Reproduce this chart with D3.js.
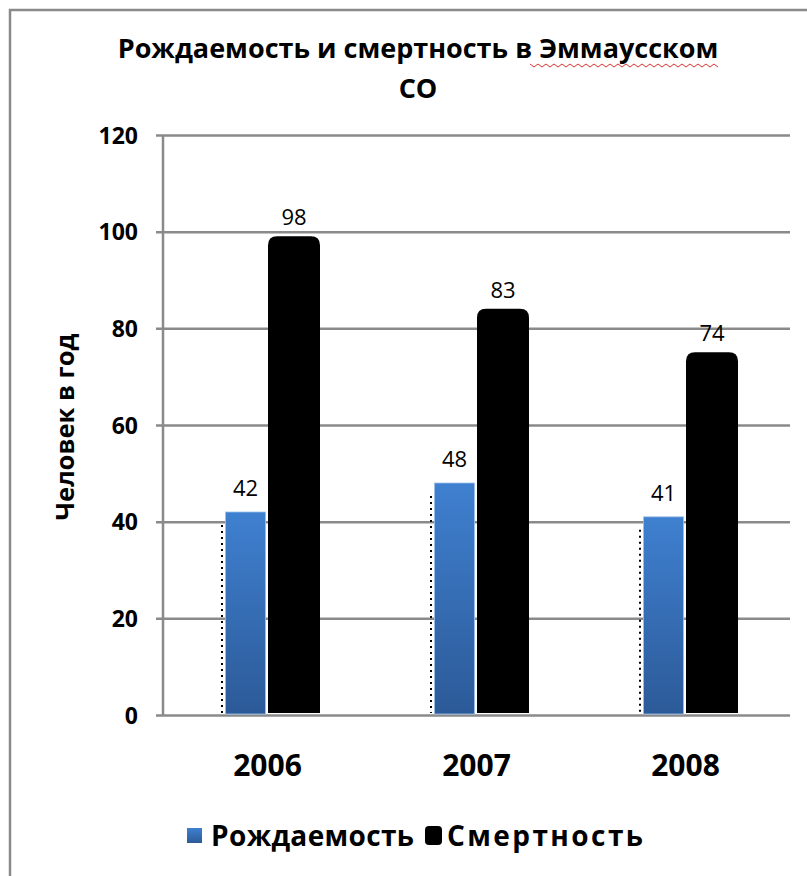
<!DOCTYPE html>
<html>
<head>
<meta charset="utf-8">
<script src="https://cdn.jsdelivr.net/npm/d3@7"></script>
<style>
  html, body { margin: 0; padding: 0; background: #fff; }
  svg { display: block; }
  text { font-family: "Open Sans", "Noto Sans", sans-serif; }
</style>
</head>
<body>
<svg id="chart" width="807" height="876"></svg>
<script>
const categories = ["2006", "2007", "2008"];
const births = [42, 48, 41];
const deaths = [98, 83, 74];
const yTicks = [0, 20, 40, 60, 80, 100, 120];
const seriesNames = ["Рождаемость", "Смертность"];
const titleLines = ["Рождаемость и смертность в Эммаусском", "СО"];
const yTitle = "Человек в год";

const svg = d3.select("#chart");

// outer border (extends beyond right/bottom of frame)
svg.append("rect").attr("x", 10).attr("y", 10).attr("width", 820).attr("height", 900)
  .attr("fill", "#fff").attr("stroke", "#8a8a8a").attr("stroke-width", 2.5);

const defs = svg.append("defs");
const grad = defs.append("linearGradient").attr("id", "blueGrad")
  .attr("x1", 0).attr("y1", 0).attr("x2", 0).attr("y2", 1);
grad.append("stop").attr("offset", "0%").attr("stop-color", "#3f80d0");
grad.append("stop").attr("offset", "100%").attr("stop-color", "#2c5a98");

const x0 = 163, x1 = 790, yTop = 135, yBot = 715;
const y = d3.scaleLinear().domain([0, 120]).range([yBot, yTop]);
const x = d3.scaleBand().domain(categories).range([x0, x1]).padding(0);

// gridlines + y axis
const yAxis = d3.axisLeft(y).tickValues(yTicks).tickSize(-(x1 - x0)).tickSizeOuter(0).tickPadding(25);
const gy = svg.append("g").attr("transform", `translate(${x0},0)`).call(yAxis);
gy.select(".domain").remove();
gy.selectAll(".tick line").attr("stroke", "#8a8a8a").attr("stroke-width", 2.5).attr("x1", -7);
gy.selectAll(".tick text").attr("font-size", 23).attr("font-weight", "bold").attr("fill", "#000")
  .attr("dy", "0.36em");
svg.append("line").attr("x1", x0).attr("x2", x0).attr("y1", yTop).attr("y2", yBot)
  .attr("stroke", "#8a8a8a").attr("stroke-width", 2.5);

// x axis labels
const xAxis = d3.axisBottom(x).tickSize(0).tickPadding(40);
const gx = svg.append("g").attr("transform", `translate(0,${yBot})`).call(xAxis);
gx.select(".domain").remove();
gx.selectAll(".tick text").attr("font-size", 30).attr("font-weight", "bold").attr("fill", "#000");

const groups = svg.append("g").selectAll("g").data(categories).join("g");

// dotted shadow lines
groups.append("line")
  .attr("x1", (d) => x(d) + x.bandwidth() / 2 - 45.5)
  .attr("x2", (d) => x(d) + x.bandwidth() / 2 - 45.5)
  .attr("y1", (d, i) => y(births[i]) + 13)
  .attr("y2", yBot - 2)
  .attr("stroke", "#000").attr("stroke-width", 2).attr("stroke-dasharray", "2,4");

// birth bars
groups.append("rect")
  .attr("x", (d) => x(d) + x.bandwidth() / 2 - 42)
  .attr("width", 40)
  .attr("y", (d, i) => y(births[i]))
  .attr("height", (d, i) => yBot - 1 - y(births[i]))
  .attr("fill", "url(#blueGrad)")
  .attr("stroke", "#9cc0ea").attr("stroke-width", 0.8);

// death bars, rounded top
function roundTop(xl, xr, yt, yb, r) {
  return `M${xl},${yb} L${xl},${yt + r} Q${xl},${yt} ${xl + r},${yt} L${xr - r},${yt} Q${xr},${yt} ${xr},${yt + r} L${xr},${yb} Z`;
}
groups.append("path")
  .attr("d", (d, i) => {
    const c = x(d) + x.bandwidth() / 2;
    return roundTop(c + 0.5, c + 52.5, y(deaths[i]) - 5, yBot - 2, 9);
  })
  .attr("fill", "#000");

// data labels
groups.append("text")
  .attr("x", (d) => x(d) + x.bandwidth() / 2 - 22)
  .attr("y", (d, i) => y(births[i]) - 16)
  .attr("text-anchor", "middle").attr("font-size", 22).attr("fill", "#000")
  .text((d, i) => births[i]);
groups.append("text")
  .attr("x", (d) => x(d) + x.bandwidth() / 2 + 26.5)
  .attr("y", (d, i) => y(deaths[i]) - 16)
  .attr("text-anchor", "middle").attr("font-size", 22).attr("fill", "#000")
  .text((d, i) => deaths[i]);

// title
svg.append("text").attr("x", 418).attr("y", 58).attr("text-anchor", "middle")
  .attr("font-size", 27).attr("font-weight", "bold").attr("fill", "#000").text(titleLines[0]);
svg.append("text").attr("x", 418).attr("y", 98).attr("text-anchor", "middle")
  .attr("font-size", 27).attr("font-weight", "bold").attr("fill", "#000").text(titleLines[1]);
// spellcheck squiggle under last word
const sq = d3.range(530, 722, 4).map((px, i) => [px, 65 + (i % 2 ? 2 : -1)]);
svg.append("path").attr("d", d3.line()(sq)).attr("fill", "none").attr("stroke", "#e03030").attr("stroke-width", 1);

// y title
svg.append("text").attr("transform", "translate(74,427) rotate(-90)").attr("text-anchor", "middle")
  .attr("font-size", 25.5).attr("font-weight", "bold").attr("fill", "#000").text(yTitle);

// legend
svg.append("rect").attr("x", 187).attr("y", 828).attr("width", 15).attr("height", 15).attr("fill", "url(#blueGrad)");
svg.append("text").attr("x", 211).attr("y", 846).attr("font-size", 28).attr("font-weight", "bold")
  .attr("textLength", 203).attr("lengthAdjust", "spacing").text(seriesNames[0]);
svg.append("rect").attr("x", 425).attr("y", 826).attr("width", 17).attr("height", 19).attr("rx", 4).attr("fill", "#000");
svg.append("text").attr("x", 447).attr("y", 846).attr("font-size", 28).attr("font-weight", "bold")
  .attr("textLength", 196).attr("lengthAdjust", "spacing").text(seriesNames[1]);
</script>
</body>
</html>
